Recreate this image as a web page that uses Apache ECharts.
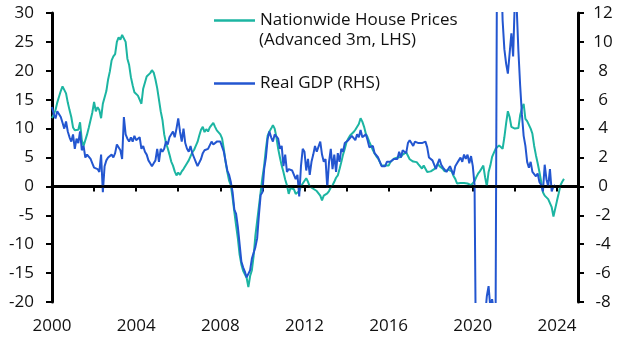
<!DOCTYPE html>
<html>
<head>
<meta charset="utf-8">
<script src="https://cdn.jsdelivr.net/npm/echarts@6/dist/echarts.min.js"></script>
<style>
  html, body { margin: 0; padding: 0; background: #fff; }
  #chart { width: 629px; height: 354px; }
</style>
</head>
<body>
<div id="chart"></div>
<script>
// monthly series, first value = Jan 2000
var startYear = 2000;

// Nationwide house prices, advanced 3m (% y/y, LHS)
var housePrices = [
  11.8, 12.5, 13.2, 14.5, 15.5, 16.5, 17.3, 17.2, 16.1, 14.5, 13.2, 12.0,
  10.2, 9.7, 9.4, 9.8, 11.1, 8.0, 7.0, 7.3, 9.0, 10.2, 11.5, 12.8,
  14.6, 13.0, 13.7, 13.2, 11.8, 14.3, 14.6, 16.5, 18.5, 19.9, 21.8, 22.5,
  22.9, 25.0, 25.8, 25.4, 26.2, 26.4, 25.0, 22.1, 21.0, 18.9, 17.5, 16.3,
  16.0, 15.7, 15.5, 14.3, 16.9, 17.0, 19.0, 19.3, 19.6, 20.1, 19.7, 18.5,
  17.0, 15.0, 13.0, 11.5, 9.0, 7.5, 6.6, 5.5, 4.3, 3.6, 2.6, 1.9,
  2.4, 2.0, 2.6, 3.0, 3.3, 4.0, 4.5, 5.2, 5.9, 6.3, 7.0, 7.7,
  8.8, 9.8, 10.3, 9.4, 9.9, 9.5, 10.2, 10.4, 11.0, 10.3, 9.7, 9.6,
  9.0, 8.3, 6.5, 4.2, 2.5, 1.0, 0.2, -2.0, -4.4, -6.8, -9.0, -11.8,
  -13.5, -14.6, -14.8, -15.8, -17.4, -15.5, -14.5, -12.0, -8.5, -6.0, -3.5, -1.0,
  1.5, 3.6, 6.5, 8.8, 9.5, 10.0, 10.6, 10.0, 8.5, 6.5, 5.0, 3.6,
  2.5, 1.2, 0.2, -1.3, -0.3, 0.0, -0.5, -1.3, -1.0, -0.8, 0.0, 0.5,
  0.8, 1.4, 0.8, 0.0, -0.2, -0.4, -0.6, -0.8, -1.2, -1.6, -2.4, -1.6,
  -1.8, -1.2, -0.8, -0.2, 0.2, 0.8, 1.5, 1.9, 3.0, 4.2, 5.5, 6.5,
  7.7, 8.3, 8.8, 9.1, 9.4, 9.8, 10.0, 10.8, 11.8, 11.2, 10.3, 9.1,
  8.5, 7.7, 7.0, 6.3, 5.7, 5.2, 4.8, 4.2, 3.6, 3.4, 3.6, 3.5,
  3.6, 4.2, 4.5, 4.8, 5.1, 5.0, 5.3, 5.1, 5.5, 5.7, 5.9, 5.6,
  4.7, 4.5, 4.3, 4.0, 4.2, 3.8, 3.5, 3.1, 3.6, 3.9, 2.5, 2.8,
  2.6, 2.9, 3.0, 3.4, 3.9, 3.5, 3.6, 3.0, 2.6, 2.8, 2.9, 3.1,
  2.6, 1.8, 1.3, 0.5, 0.4, 0.6, 0.8, 0.6, 0.3, 0.5, 0.3, 0.2,
  0.2, 0.9, 1.6, 2.2, 2.6, 3.1, 3.6, 1.6, 0.0, 2.5, 3.6, 5.1,
  5.8, 6.5, 6.8, 7.1, 6.8, 6.5, 8.5, 10.9, 13.0, 12.0, 10.3, 10.0,
  10.0, 10.3, 10.1, 12.3, 13.5, 14.3, 11.7, 11.3, 11.1, 10.0, 9.1, 7.0,
  5.4, 4.0, 2.5, 0.8, -1.0, -1.6, -1.9, -2.2, -2.5, -3.6, -5.2, -5.0,
  -2.5, -1.2, 0.2, 0.8, 1.3
];

// Real GDP (% y/y, RHS)
var realGdp = [
  5.5, 5.0, 4.7, 5.2, 5.3, 4.8, 4.4, 4.0, 4.5, 3.8, 3.4, 3.1,
  3.6, 2.6, 3.3, 3.0, 3.8, 2.5, 2.8, 2.0, 2.2, 2.2, 1.9, 1.6,
  1.3, 1.2, 1.2, 1.0, 2.2, -0.4, 1.4, 1.8, 2.0, 2.0, 2.2, 2.0,
  2.3, 2.9, 2.8, 2.5, 1.9, 4.8, 3.6, 3.3, 3.1, 3.4, 3.1, 3.5,
  3.2, 3.1, 3.4, 2.6, 2.8, 2.4, 2.2, 1.8, 1.6, 1.4, 1.6, 1.8,
  2.6, 1.7, 2.6, 2.4, 2.6, 3.1, 2.9, 3.4, 3.5, 3.8, 3.4, 4.0,
  4.7, 3.8, 3.1, 4.0, 3.0, 2.6, 2.4, 2.8, 2.3, 2.0, 1.7, 1.4,
  1.5, 1.9, 2.3, 2.5, 2.4, 2.6, 2.6, 3.1, 2.9, 3.0, 3.1, 3.0,
  3.1, 3.0, 2.4, 2.3, 1.1, 0.8, 0.3, -0.4, -1.6, -1.9, -2.8, -4.0,
  -5.2, -5.6, -5.9, -6.3, -6.2, -5.8, -5.0, -4.6, -4.2, -3.6, -2.0, -0.6,
  -0.4, 1.2, 2.0, 3.3, 3.8, 3.4, 3.1, 3.6, 3.5, 3.3, 2.6, 2.8,
  1.4, 2.2, 1.0, 1.2, 1.2, 1.1, 1.0, 0.5, 0.8, -0.7, 1.4, 2.6,
  2.4, 1.1, 1.9, 0.8, 1.7, 2.2, 2.8, 2.4, 2.4, 3.1, 2.2, 1.7,
  1.9, -0.1, 1.7, 2.6, 1.2, 2.2, 1.0, 2.3, 1.7, 2.6, 2.4, 3.0,
  3.1, 3.2, 3.3, 3.5, 3.4, 3.2, 3.6, 3.4, 3.9, 3.4, 3.3, 3.6,
  3.2, 2.7, 2.8, 2.8, 2.3, 2.2, 2.0, 1.7, 1.4, 1.4, 1.4, 1.7,
  1.6, 1.7, 1.8, 1.9, 2.0, 1.9, 2.4, 2.0, 2.5, 2.4, 2.3, 3.0,
  3.2, 3.0, 2.8, 3.1, 3.0, 3.0, 3.1, 3.0, 3.0, 3.1, 2.7, 2.0,
  1.9, 1.8, 1.7, 1.2, 1.6, 1.9, 1.5, 1.3, 1.4, 1.0, 1.2, 1.4,
  1.1, 0.8, 1.4, 1.6, 1.8, 2.0, 1.7, 2.2, 1.9, 2.2, 1.6, 2.1,
  1.4, 0.1, -15, -25, -24, -21, -12, -9, -7.6, -6.9, -8.4, -7.8,
  -8.6, -9.2, 22, 25, 16, 11.5, 9.5, 8.5, 7.8, 7.7, 10.6, 9.0,
  13, 12.5, 9.4, 7.0, 5.0, 3.5, 2.8, 1.7, 1.3, 1.7, 1.0, 1.1,
  0.7, 0.9, 0.3, 0.1, -0.35, 1.5, 0.5, 0.0, 1.2, -0.35, 0.0, 0.1
];

var xTicks = [2000, 2002, 2004, 2006, 2008, 2010, 2012, 2014, 2016, 2018, 2020, 2022, 2024];
var xLabels = [2000, 2004, 2008, 2012, 2016, 2020, 2024];

var houseName = 'Nationwide House Prices';
var houseNote = '(Advanced 3m, LHS)';
var gdpName = 'Real GDP (RHS)';

var toPoints = function (arr) {
  return arr.map(function (v, i) { return [startYear + i / 12, v]; });
};

var font = 'Open Sans';
var txt = '#111';
var chart = echarts.init(document.getElementById('chart'));

var option = {
  animation: false,
  grid: { left: 52, right: 51, top: 13, bottom: 52 },
  legend: [
    {
      data: [houseName], left: 209, top: 7, icon: 'rect',
      itemWidth: 41, itemHeight: 2.5, itemGap: 5,
      textStyle: { fontFamily: font, fontSize: 17, color: txt }
    },
    {
      data: [gdpName], left: 209, top: 70, icon: 'rect',
      itemWidth: 41, itemHeight: 2.5, itemGap: 5,
      textStyle: { fontFamily: font, fontSize: 17, color: txt }
    }
  ],
  graphic: [{
    type: 'text', left: 259, top: 32,
    style: { text: houseNote, fontFamily: font, fontSize: 17, fill: txt }
  }],
  xAxis: {
    type: 'value', min: 2000, max: 2025,
    axisLine: { lineStyle: { color: '#000', width: 3 } },
    axisTick: { length: 5, lineStyle: { color: '#000', width: 2 }, customValues: xTicks },
    axisLabel: {
      fontFamily: font, fontSize: 17, color: txt, margin: 16,
      customValues: xLabels, formatter: function (v) { return String(v); }
    },
    splitLine: { show: false }
  },
  yAxis: [
    {
      type: 'value', min: -20, max: 30, interval: 5,
      axisLine: { show: true, lineStyle: { color: '#000', width: 3 } },
      axisTick: { show: true, length: 6, lineStyle: { color: '#000', width: 2 } },
      axisLabel: { fontFamily: font, fontSize: 17, color: txt, margin: 18 },
      splitLine: { show: false }
    },
    {
      type: 'value', min: -8, max: 12, interval: 2, position: 'right',
      axisLine: { show: true, lineStyle: { color: '#000', width: 3 } },
      axisTick: { show: true, length: 6, lineStyle: { color: '#000', width: 2 } },
      axisLabel: { fontFamily: font, fontSize: 17, color: txt, margin: 25, align: 'center' },
      splitLine: { show: false }
    }
  ],
  series: [
    {
      name: houseName, type: 'line', yAxisIndex: 0,
      data: toPoints(housePrices), symbol: 'none',
      lineStyle: { color: '#1cb5a2', width: 2 }, itemStyle: { color: '#1cb5a2' },
      markLine: {
        silent: true, symbol: 'none', label: { show: false },
        lineStyle: { color: '#000', width: 2.5, type: 'solid' },
        data: [{ yAxis: 0 }]
      }
    },
    {
      name: gdpName, type: 'line', yAxisIndex: 1,
      data: toPoints(realGdp), symbol: 'none', clip: true,
      lineStyle: { color: '#2356d0', width: 2 }, itemStyle: { color: '#2356d0' }
    }
  ]
};

chart.setOption(option);
</script>
</body>
</html>
